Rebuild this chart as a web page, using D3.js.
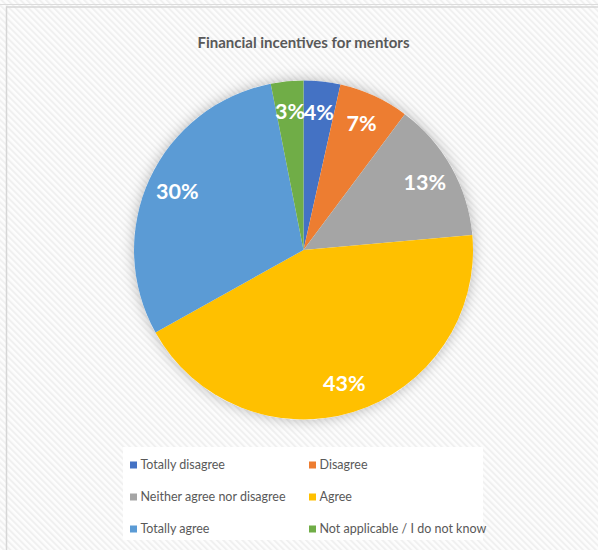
<!DOCTYPE html>
<html><head><meta charset="utf-8">
<script src="https://cdn.jsdelivr.net/npm/d3@7"></script>
<style>html,body{margin:0;padding:0;background:#fff;overflow:hidden}svg{display:block}</style>
</head><body>
<script>
const title = "Financial incentives for mentors";
const categories = ["Totally disagree","Disagree","Neither agree nor disagree","Agree","Totally agree","Not applicable / I do not know"];
const values = [3.5, 6.7, 13.4, 43.3, 30.0, 3.1];
const colors = ["#4472C4","#ED7D31","#A5A5A5","#FFC000","#5B9BD5","#70AD47"];

const W = 598, H = 550;
const svg = d3.select("body").append("svg").attr("width", W).attr("height", H);
const defs = svg.append("defs");
const pat = defs.append("pattern").attr("id","stripes").attr("patternUnits","userSpaceOnUse")
  .attr("width",4.5).attr("height",4.5).attr("patternTransform","rotate(-45)");
pat.append("rect").attr("width",4.5).attr("height",4.5).attr("fill","#fdfdfd");
pat.append("rect").attr("width",2).attr("height",4.5).attr("fill","#f0f0f0");
const f = defs.append("filter").attr("id","shadow").attr("x","-20%").attr("y","-20%").attr("width","140%").attr("height","140%");
f.append("feDropShadow").attr("dx",0).attr("dy",0).attr("stdDeviation",7).attr("flood-color","#000").attr("flood-opacity",0.28);

svg.append("rect").attr("width",W).attr("height",H).attr("fill","url(#stripes)");
// frame lines
svg.append("line").attr("x1",0).attr("x2",W).attr("y1",4.5).attr("y2",4.5).attr("stroke","#dcdcdc").attr("stroke-width",1);
svg.append("line").attr("x1",6).attr("x2",W).attr("y1",7).attr("y2",7).attr("stroke","#d6d6d6").attr("stroke-width",1.5);
svg.append("line").attr("x1",6.5).attr("x2",6.5).attr("y1",6.5).attr("y2",H).attr("stroke","#d6d6d6").attr("stroke-width",1.5);

const cx = 303.5, cy = 250, R = 169.5;
svg.append("text").attr("x",cx).attr("y",48).attr("text-anchor","middle")
  .attr("font-family","Lato, 'Open Sans', sans-serif").attr("font-weight","bold")
  .attr("font-size",15).attr("fill","#595959").text(title);

const data = categories.map((c,i)=>({cat:c, value:values[i], color:colors[i]}));
const total = d3.sum(values);
const pie = d3.pie().value(d=>d.value).sort(null);
const arc = d3.arc().innerRadius(0).outerRadius(R);
const labelArc = d3.arc().innerRadius(R*0.82).outerRadius(R*0.82);
const g = svg.append("g").attr("transform",`translate(${cx},${cy})`);
g.append("circle").attr("r",R).attr("fill","#fff").attr("filter","url(#shadow)");
const arcs = pie(data);
g.selectAll("path").data(arcs).join("path").attr("d",arc).attr("fill",d=>d.data.color);
g.selectAll("text").data(arcs).join("text")
  .attr("transform",d=>`translate(${labelArc.centroid(d)})`)
  .attr("text-anchor","middle").attr("dy","0.36em")
  .attr("font-family","Lato, 'Open Sans', sans-serif").attr("font-weight","bold")
  .attr("font-size",21.5).attr("fill","#fff")
  .text(d=>Math.round(d.data.value/total*100)+"%");

// legend
const lg = svg.append("g");
lg.append("rect").attr("x",123).attr("y",447).attr("width",360).attr("height",93).attr("fill","#fff");
const colX = d3.scaleOrdinal().domain([0,1]).range([130,309]);
const rowY = d3.scaleOrdinal().domain([0,1,2]).range([465,497,529]);
const items = lg.selectAll("g.it").data(data).join("g").attr("class","it")
  .attr("transform",(d,i)=>`translate(${colX(i%2)},${rowY(Math.floor(i/2))})`);
items.append("rect").attr("x",0).attr("y",-3.5).attr("width",7).attr("height",7).attr("fill",d=>d.color);
items.append("text").attr("x",10.5).attr("y",0).attr("dy","0.35em")
  .attr("font-family","Lato, 'Open Sans', sans-serif").attr("font-size",12.5).attr("fill","#595959")
  .text(d=>d.cat);
</script>
</body></html>
